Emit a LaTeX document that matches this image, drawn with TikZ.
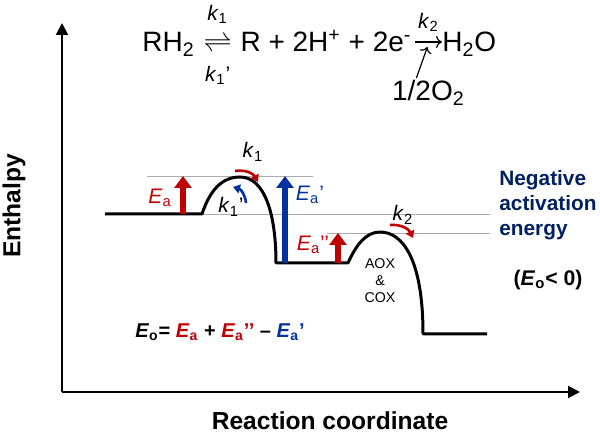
\documentclass[tikz,border=0pt]{standalone}
\usepackage{fontspec}
\setmainfont{Liberation Sans}
\usepackage{tikz}
\usetikzlibrary{arrows.meta, positioning, calc}
\definecolor{eared}{RGB}{192, 0, 0}
\definecolor{eablue}{RGB}{0, 51, 160}
\definecolor{navytext}{RGB}{0, 32, 96}

\begin{document}
\begin{tikzpicture}[x=0.5pt, y=0.5pt,
    axisline/.style={line width=1pt, -{Triangle[length=6pt, width=6pt]}},
    barrier/.style={line width=1.5pt, line join=round},
    gapline/.style={draw=gray!65, line width=0.4pt},
    bigarrow/.style={line width=3pt, -{Triangle[length=6pt, width=8.5pt]}},
    ratearrow/.style={line width=1.3pt, -{Triangle[length=3.5pt, width=4.5pt]}},
    eqtext/.style={inner sep=0pt, font=\fontsize{14}{16}\selectfont},
    klabel/.style={inner sep=0pt, font=\fontsize{10.5}{12}\selectfont},
    axislabel/.style={font=\fontsize{12.3}{14}\selectfont\bfseries},
]
    \useasboundingbox (0,0) rectangle (600,439);

    % Axes
    \coordinate (origin) at (62,47);
    \draw[axisline] (origin) -- (62,416);
    \draw[axisline] (origin) -- (580,47);
    \node[axislabel, rotate=90] (ylab) at (14,233) {Enthalpy};
    \node[axislabel] (xlab) at (330,18) {Reaction coordinate};

    % Reaction scheme
    \node[eqtext, anchor=base west] (rh) at (142,387) {RH\textsubscript{2}};
    \node[eqtext, base right=4pt of rh] (eq) {$\rightleftharpoons$};
    \node[klabel, above=6.5pt of eq] (k1top) {\textit{k}\textsubscript{1}};
    \node[klabel, below=6.5pt of eq] (k1bot) {\textit{k}\textsubscript{1}’};
    \node[eqtext, base right=4pt of eq] (prod) {R + 2H\textsuperscript{+} + 2e\textsuperscript{-}};
    \node[eqtext, base right=15pt of prod] (water) {H\textsubscript{2}O};
    \coordinate (arrL) at ($(prod.base east)+(1.5pt,5pt)$);
    \coordinate (arrR) at ($(water.base west)+(0,5pt)$);
    \coordinate (arrM) at ($(arrL)!0.5!(arrR)$);
    \draw[-{To}, line width=0.6pt] (arrL) -- (arrR);
    \node[klabel, above=5pt of arrM] (k2top) {\textit{k}\textsubscript{2}};
    \node[eqtext, below=19pt of arrM] (oxy) {1/2O\textsubscript{2}};
    \draw[-{To}, line width=0.6pt] ($(oxy.north)+(-6pt,1pt)$) -- ($(arrM)+(-0.5pt,-2.5pt)$);

    % Energy levels
    \draw[gapline] (147,263) -- (313,263);
    \draw[gapline] (202,225) -- (490,225);
    \draw[gapline] (327,206) -- (490,206);

    % Energy profile
    \draw[barrier] (105,225) -- (202,225)
        .. controls (210,249) and (222,262) .. (240,262)
        .. controls (265,262) and (276,224) .. (276,176) -- (348,176)
        .. controls (356,194) and (366,207) .. (380,207)
        .. controls (403,207) and (423,179) .. (423,105) -- (487,105);

    % Activation energies
    \draw[bigarrow, eared] (183,225) -- (183,263);
    \draw[bigarrow, eablue] (285,176) -- (285,263);
    \draw[bigarrow, eared] (338,176) -- (338,206);
    \node[klabel, text=eared] (ea) at (160,241) {\textit{E}\textsubscript{a}};
    \node[klabel, text=eablue] (eaback) at (310,244) {\textit{E}\textsubscript{a}’};
    \node[klabel, text=eared] (eaox) at (313,194) {\textit{E}\textsubscript{a}’’};

    % Rate constants on the barriers
    \node[klabel] (k1f) at (253,287) {\textit{k}\textsubscript{1}};
    \node[klabel] (k1r) at (231,232) {\textit{k}\textsubscript{1}’};
    \node[klabel] (k2f) at (403,224) {\textit{k}\textsubscript{2}};
    \draw[ratearrow, eared] (235,268) to[bend left=35] (258,257);
    \draw[ratearrow, eablue] (246,236) to[bend right=35] (233,252);
    \draw[ratearrow, eared] (390,214) to[bend left=35] (413,201);
    \node[align=center, font=\fontsize{7.1}{8.5}\selectfont] (enz) at (380,158) {AOX\\\&\\COX};

    % Annotations
    \node[anchor=west, inner sep=0pt, align=left, text=navytext, font=\fontsize{10.4}{12.5}\selectfont\bfseries] (negea) at (499,234) {Negative\\activation\\energy};
    \node[font=\fontsize{10.6}{12}\selectfont\bfseries] (eoneg) at (548,159) {(\textit{E}\textsubscript{o}< 0)};
    \node[font=\fontsize{10}{12}\selectfont\bfseries] (eosum) at (220,107) {\textit{E}\textsubscript{o}= \textcolor{eared}{\textit{E}\textsubscript{a}} + \textcolor{eared}{\textit{E}\textsubscript{a}’’} – \textcolor{eablue}{\textit{E}\textsubscript{a}’}};
\end{tikzpicture}
\end{document}
